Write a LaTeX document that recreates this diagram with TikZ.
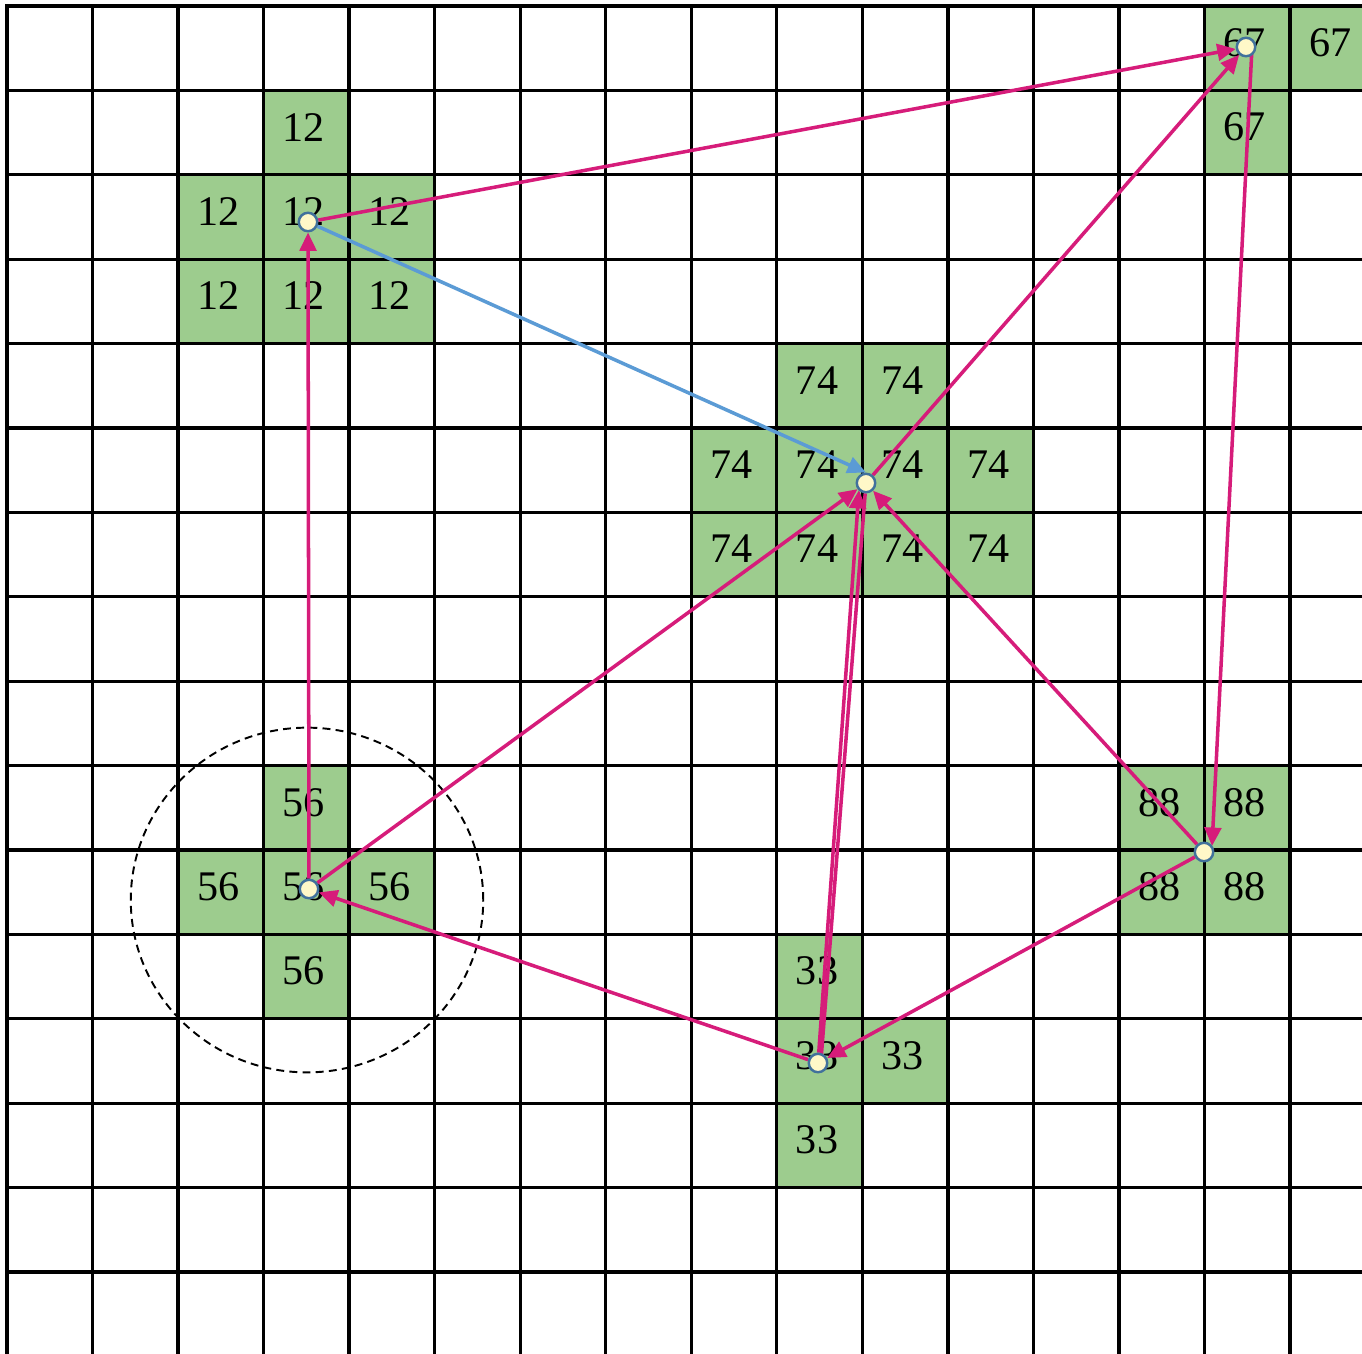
\documentclass[tikz,border=0pt]{standalone}
\usepackage{fontspec}
\setmainfont{Liberation Serif}
\usetikzlibrary{arrows.meta,calc}
\definecolor{cellgreen}{RGB}{157,204,142}
\definecolor{mag}{RGB}{214,28,122}
\definecolor{lblue}{RGB}{91,155,213}
\definecolor{dotfill}{RGB}{255,248,200}
\definecolor{dotline}{RGB}{65,113,156}
\pgfdeclarelayer{fg}
\pgfsetlayers{main,fg}
\tikzset{
  gridline/.style={black, line width=1.9pt, line cap=rect},
  num/.style={inner sep=0pt, font=\fontsize{24pt}{28pt}\selectfont},
  dot/.style={circle, draw=dotline, fill=dotfill, line width=1.4pt, minimum size=10.5pt, inner sep=0pt},
  arr/.style={mag, line width=2pt, -{Triangle[length=10.5pt,width=9.5pt]}},
  mline/.style={mag, line width=2pt},
  barr/.style={lblue, line width=2pt, -{Triangle[length=10.5pt,width=9.5pt]}},
  ring/.style={black, line width=1.1pt, dash pattern=on 4.5pt off 3pt},
}
\newcommand\greencell[3]{%
  \fill[cellgreen] ({7+85.53*#1},{6+84.4*#2}) rectangle ({7+85.53*(#1+1)},{6+84.4*(#2+1)});
  \node[num] (n-#1-#2) at ({7+85.53*(#1+0.5)-2.5},{6+84.4*(#2+0.5)-5.5}) {#3};
}
\begin{document}
\begin{tikzpicture}[x=0.02cm, y=-0.02cm]
\useasboundingbox (0,0) rectangle (1362,1353);
% green cells
\greencell{14}{0}{67}\greencell{15}{0}{67}\greencell{14}{1}{67}
\greencell{3}{1}{12}
\greencell{2}{2}{12}\greencell{3}{2}{12}\greencell{4}{2}{12}
\greencell{2}{3}{12}\greencell{3}{3}{12}\greencell{4}{3}{12}
\greencell{9}{4}{74}\greencell{10}{4}{74}
\greencell{8}{5}{74}\greencell{9}{5}{74}\greencell{10}{5}{74}\greencell{11}{5}{74}
\greencell{8}{6}{74}\greencell{9}{6}{74}\greencell{10}{6}{74}\greencell{11}{6}{74}
\greencell{3}{9}{56}
\greencell{2}{10}{56}\greencell{3}{10}{56}\greencell{4}{10}{56}
\greencell{3}{11}{56}
\greencell{13}{9}{88}\greencell{14}{9}{88}
\greencell{13}{10}{88}\greencell{14}{10}{88}
\greencell{9}{11}{33}
\greencell{9}{12}{33}\greencell{10}{12}{33}
\greencell{9}{13}{33}
% grid
\foreach \i in {0,...,15} \draw[gridline] ({7+85.53*\i},6) -- ({7+85.53*\i},1360);
\foreach \j in {0,...,15} \draw[gridline] (7,{6+84.4*\j}) -- (1370,{6+84.4*\j});
% dashed ring
\draw[ring] (307,900) ellipse [x radius=100.3pt, y radius=98.1pt];
% dots (on top)
\begin{pgfonlayer}{fg}
\node[dot] (d67) at (1246,47) {};
\node[dot] (d12) at (308,222) {};
\node[dot] (d74) at (866,483) {};
\node[dot] (d56) at (309,889) {};
\node[dot] (d88) at (1204,852) {};
\node[dot] (d33) at (818,1063) {};
\end{pgfonlayer}
% connectors
\draw[arr] (d12) -- (d67);
\draw[arr] (d74) -- (d67);
\draw[arr] (d56) -- (d12);
\draw[arr] (d56) -- (d74);
\draw[arr] ($(d67)+(6,0)$) -- ($(d88)+(8,-6)$);
\draw[arr] (d88) -- (d74);
\draw[arr] (d88) -- (d33);
\draw[arr] (d33) -- (d56);
\draw[arr] (d33) -- ($(d74)+(-7,7)$);
\draw[mline] (d74) -- ($(d33)+(3,-3)$);
\draw[barr] (d12) -- (d74.north);
\end{tikzpicture}
\end{document}
